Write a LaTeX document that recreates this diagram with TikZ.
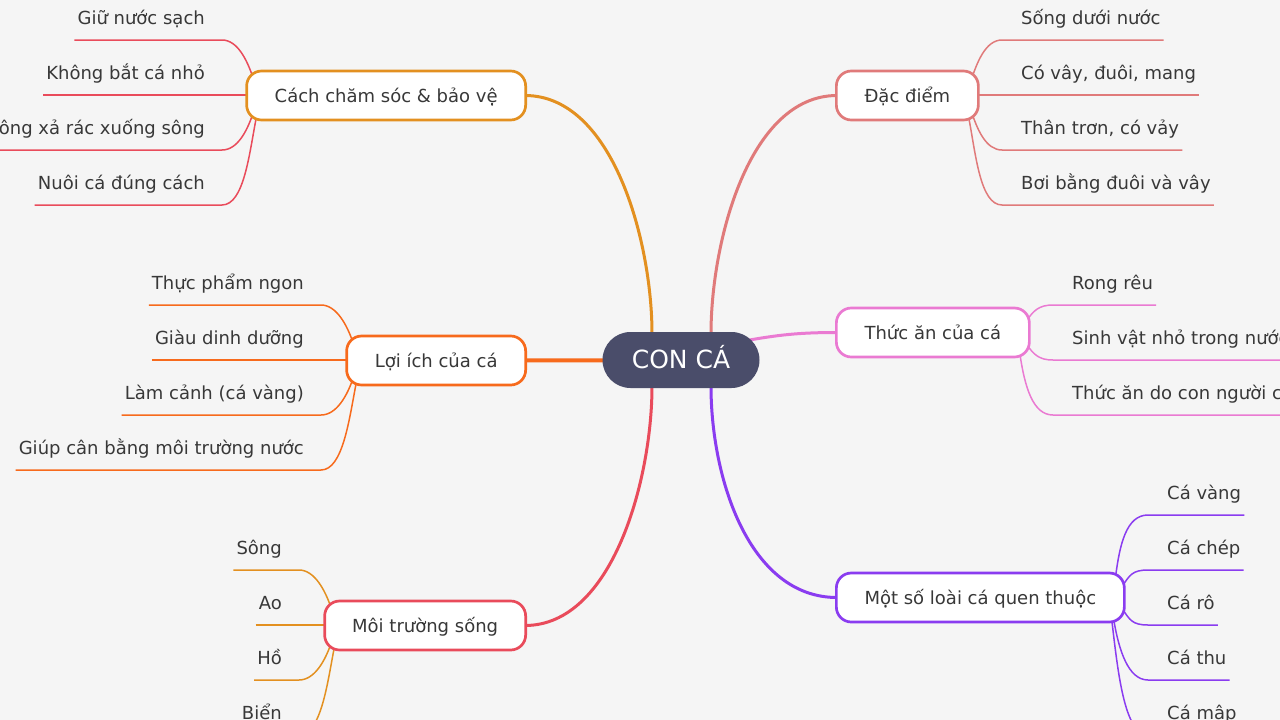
\documentclass[tikz,border=0pt]{standalone}
\usepackage{fontspec}
\setmainfont{DejaVu Sans}
\usetikzlibrary{calc}
\pgfdeclarelayer{bg}
\pgfsetlayers{bg,main}
\definecolor{bgc}{HTML}{F5F5F5}
\definecolor{cen}{HTML}{4A4D6A}
\definecolor{cdac}{HTML}{E07A7A}
\definecolor{cthuc}{HTML}{EA7AD2}
\definecolor{cmot}{HTML}{8A3CF0}
\definecolor{ccach}{HTML}{E39020}
\definecolor{cloi}{HTML}{F76A1C}
\definecolor{cmoi}{HTML}{E94B5B}
\definecolor{txt}{HTML}{383838}
\tikzset{
  topic/.style={draw=#1, line width=2.7pt, fill=white, rounded corners=15pt,
    minimum height=49pt, inner xsep=0pt, text height=13pt, text depth=0pt,
    font=\fontsize{18}{21}\selectfont, text=txt},
  centre/.style={fill=cen, rounded corners=28pt, minimum width=157pt, minimum height=56pt,
    text height=17pt, text depth=0pt, font=\fontsize{25}{29}\selectfont, text=white},
  leafL/.style={anchor=south east, inner xsep=3pt, inner ysep=0pt, text height=13pt,
    text depth=15pt, font=\fontsize{18}{21}\selectfont, text=txt},
  leafR/.style={anchor=south west, inner xsep=3pt, inner ysep=0pt, text height=13pt,
    text depth=15pt, font=\fontsize{18}{21}\selectfont, text=txt},
  leafline/.style={draw=#1, line width=1.5pt},
  mainline/.style={draw=#1, line width=3pt},
}
\begin{document}
\begin{tikzpicture}[x=1pt,y=-1pt]
\useasboundingbox (0,0) rectangle (1280,720);
% central and main topics
\node[centre] (con) at (681,360) {CON CÁ};
\node[topic=ccach, minimum width=279pt, anchor=east] (cach) at (527,95.5) {Cách chăm sóc \& bảo vệ};
\node[topic=cloi, minimum width=179pt, anchor=east] (loi) at (527,360.5) {Lợi ích của cá};
\node[topic=cmoi, minimum width=201pt, anchor=east] (moi) at (527,625.5) {Môi trường sống};
\node[topic=cdac, minimum width=142pt, anchor=west] (dac) at (835,95.5) {Đặc điểm};
\node[topic=cthuc, minimum width=193pt, anchor=west] (thuc) at (835,332.5) {Thức ăn của cá};
\node[topic=cmot, minimum width=288pt, anchor=west] (mot) at (835,597.5) {Một số loài cá quen thuộc};
% leaves: Cach cham soc
\node[leafL] (c1) at (208,40) {Giữ nước sạch};
\node[leafL] (c2) at (208,95) {Không bắt cá nhỏ};
\node[leafL] (c3) at (208,150) {Không xả rác xuống sông};
\node[leafL] (c4) at (208,205) {Nuôi cá đúng cách};
% leaves: Loi ich
\node[leafL] (l1) at (307,305) {Thực phẩm ngon};
\node[leafL] (l2) at (307,360) {Giàu dinh dưỡng};
\node[leafL] (l3) at (307,415) {Làm cảnh (cá vàng)};
\node[leafL] (l4) at (307,470) {Giúp cân bằng môi trường nước};
% leaves: Moi truong song
\node[leafL] (m1) at (285,570) {Sông};
\node[leafL] (m2) at (285,625) {Ao};
\node[leafL] (m3) at (285,680) {Hồ};
\node[leafL] (m4) at (285,735) {Biển};
% leaves: Dac diem
\node[leafR] (d1) at (1018,40) {Sống dưới nước};
\node[leafR] (d2) at (1018,95) {Có vây, đuôi, mang};
\node[leafR] (d3) at (1018,150) {Thân trơn, có vảy};
\node[leafR] (d4) at (1018,205) {Bơi bằng đuôi và vây};
% leaves: Thuc an
\node[leafR] (t1) at (1069,305) {Rong rêu};
\node[leafR] (t2) at (1069,360) {Sinh vật nhỏ trong nước};
\node[leafR] (t3) at (1069,415) {Thức ăn do con người cho};
% leaves: Mot so loai
\node[leafR] (s1) at (1164,515) {Cá vàng};
\node[leafR] (s2) at (1164,570) {Cá chép};
\node[leafR] (s3) at (1164,625) {Cá rô};
\node[leafR] (s4) at (1164,680) {Cá thu};
\node[leafR] (s5) at (1164,735) {Cá mập};

\begin{pgfonlayer}{bg}
\fill[bgc] (0,0) rectangle (1280,720);
% main connectors
\draw[mainline=ccach] ($(con.north)+(-29,2)$) .. controls +(0,-92) and +(88,0) .. ($(cach.east)+(-2,0)$);
\draw[mainline=cdac] ($(con.north)+(30,2)$) .. controls +(0,-92) and +(-88,0) .. ($(dac.west)+(2,0)$);
\draw[mainline=cmoi] ($(con.south)+(-29,-2)$) .. controls +(0,92) and +(88,0) .. ($(moi.east)+(-2,0)$);
\draw[mainline=cmot] ($(con.south)+(30,-2)$) .. controls +(0,92) and +(-88,0) .. ($(mot.west)+(2,0)$);
\draw[mainline=cloi, line width=4pt] (con.center) -- ($(loi.east)+(-2,0)$);
\draw[mainline=cthuc] ($(con.east)+(-22,-18)$) .. controls +(35,-6) and +(-45,0) .. ($(thuc.west)+(2,0)$);
% Cach leaves
\draw[leafline=cmoi] (c1.south west) -- ($(c1.south east)+(14,0)$) .. controls +(16,0) and +(-5,-14) .. ($(cach.west)+(7,-20)$);
\draw[leafline=cmoi] (c2.south west) -- ($(cach.west)+(4,-0.5)$);
\draw[leafline=cmoi] (c3.south west) -- ($(c3.south east)+(14,0)$) .. controls +(16,0) and +(-5,14) .. ($(cach.west)+(7,20)$);
\draw[leafline=cmoi] (c4.south west) -- ($(c4.south east)+(14,0)$) .. controls +(22,0) and +(-7,36) .. ($(cach.west)+(11,22)$);
% Loi ich leaves
\draw[leafline=cloi] (l1.south west) -- ($(l1.south east)+(14,0)$) .. controls +(16,0) and +(-5,-14) .. ($(loi.west)+(7,-20)$);
\draw[leafline=cloi] (l2.south west) -- ($(loi.west)+(4,-0.5)$);
\draw[leafline=cloi] (l3.south west) -- ($(l3.south east)+(14,0)$) .. controls +(16,0) and +(-5,14) .. ($(loi.west)+(7,20)$);
\draw[leafline=cloi] (l4.south west) -- ($(l4.south east)+(14,0)$) .. controls +(22,0) and +(-7,36) .. ($(loi.west)+(11,22)$);
% Moi truong leaves
\draw[leafline=ccach] (m1.south west) -- ($(m1.south east)+(14,0)$) .. controls +(16,0) and +(-5,-14) .. ($(moi.west)+(7,-20)$);
\draw[leafline=ccach] (m2.south west) -- ($(moi.west)+(4,-0.5)$);
\draw[leafline=ccach] (m3.south west) -- ($(m3.south east)+(14,0)$) .. controls +(16,0) and +(-5,14) .. ($(moi.west)+(7,20)$);
\draw[leafline=ccach] (m4.south west) -- ($(m4.south east)+(14,0)$) .. controls +(22,0) and +(-7,36) .. ($(moi.west)+(11,22)$);
% Dac diem leaves
\draw[leafline=cdac] ($(dac.east)+(-7,-20)$) .. controls +(5,-14) and +(-16,0) .. ($(d1.south west)+(-16,0)$) -- (d1.south east);
\draw[leafline=cdac] ($(dac.east)+(-4,-0.5)$) -- (d2.south east);
\draw[leafline=cdac] ($(dac.east)+(-7,20)$) .. controls +(5,14) and +(-16,0) .. ($(d3.south west)+(-16,0)$) -- (d3.south east);
\draw[leafline=cdac] ($(dac.east)+(-11,22)$) .. controls +(7,36) and +(-22,0) .. ($(d4.south west)+(-16,0)$) -- (d4.south east);
% Thuc an leaves
\draw[leafline=cthuc] ($(thuc.east)+(-4,-12)$) .. controls +(7,-10) and +(-14,0) .. ($(t1.south west)+(-16,0)$) -- (t1.south east);
\draw[leafline=cthuc] ($(thuc.east)+(-4,12)$) .. controls +(7,10) and +(-14,0) .. ($(t2.south west)+(-16,0)$) -- (t2.south east);
\draw[leafline=cthuc] ($(thuc.east)+(-11,20)$) .. controls +(5,35) and +(-20,0) .. ($(t3.south west)+(-16,0)$) -- (t3.south east);
% Mot so loai leaves
\draw[leafline=cmot] ($(mot.east)+(-10,-22)$) .. controls +(4,-30) and +(-22,0) .. ($(s1.south west)+(-16,0)$) -- (s1.south east);
\draw[leafline=cmot] ($(mot.east)+(-3,-12)$) .. controls +(7,-10) and +(-16,0) .. ($(s2.south west)+(-16,0)$) -- (s2.south east);
\draw[leafline=cmot] ($(mot.east)+(-3,12)$) .. controls +(7,10) and +(-16,0) .. ($(s3.south west)+(-16,0)$) -- (s3.south east);
\draw[leafline=cmot] ($(mot.east)+(-12,22)$) .. controls +(5,30) and +(-20,0) .. ($(s4.south west)+(-16,0)$) -- (s4.south east);
\draw[leafline=cmot] ($(mot.east)+(-14,22)$) .. controls +(6,50) and +(-24,0) .. ($(s5.south west)+(-16,0)$) -- (s5.south east);
\end{pgfonlayer}
\end{tikzpicture}
\end{document}
